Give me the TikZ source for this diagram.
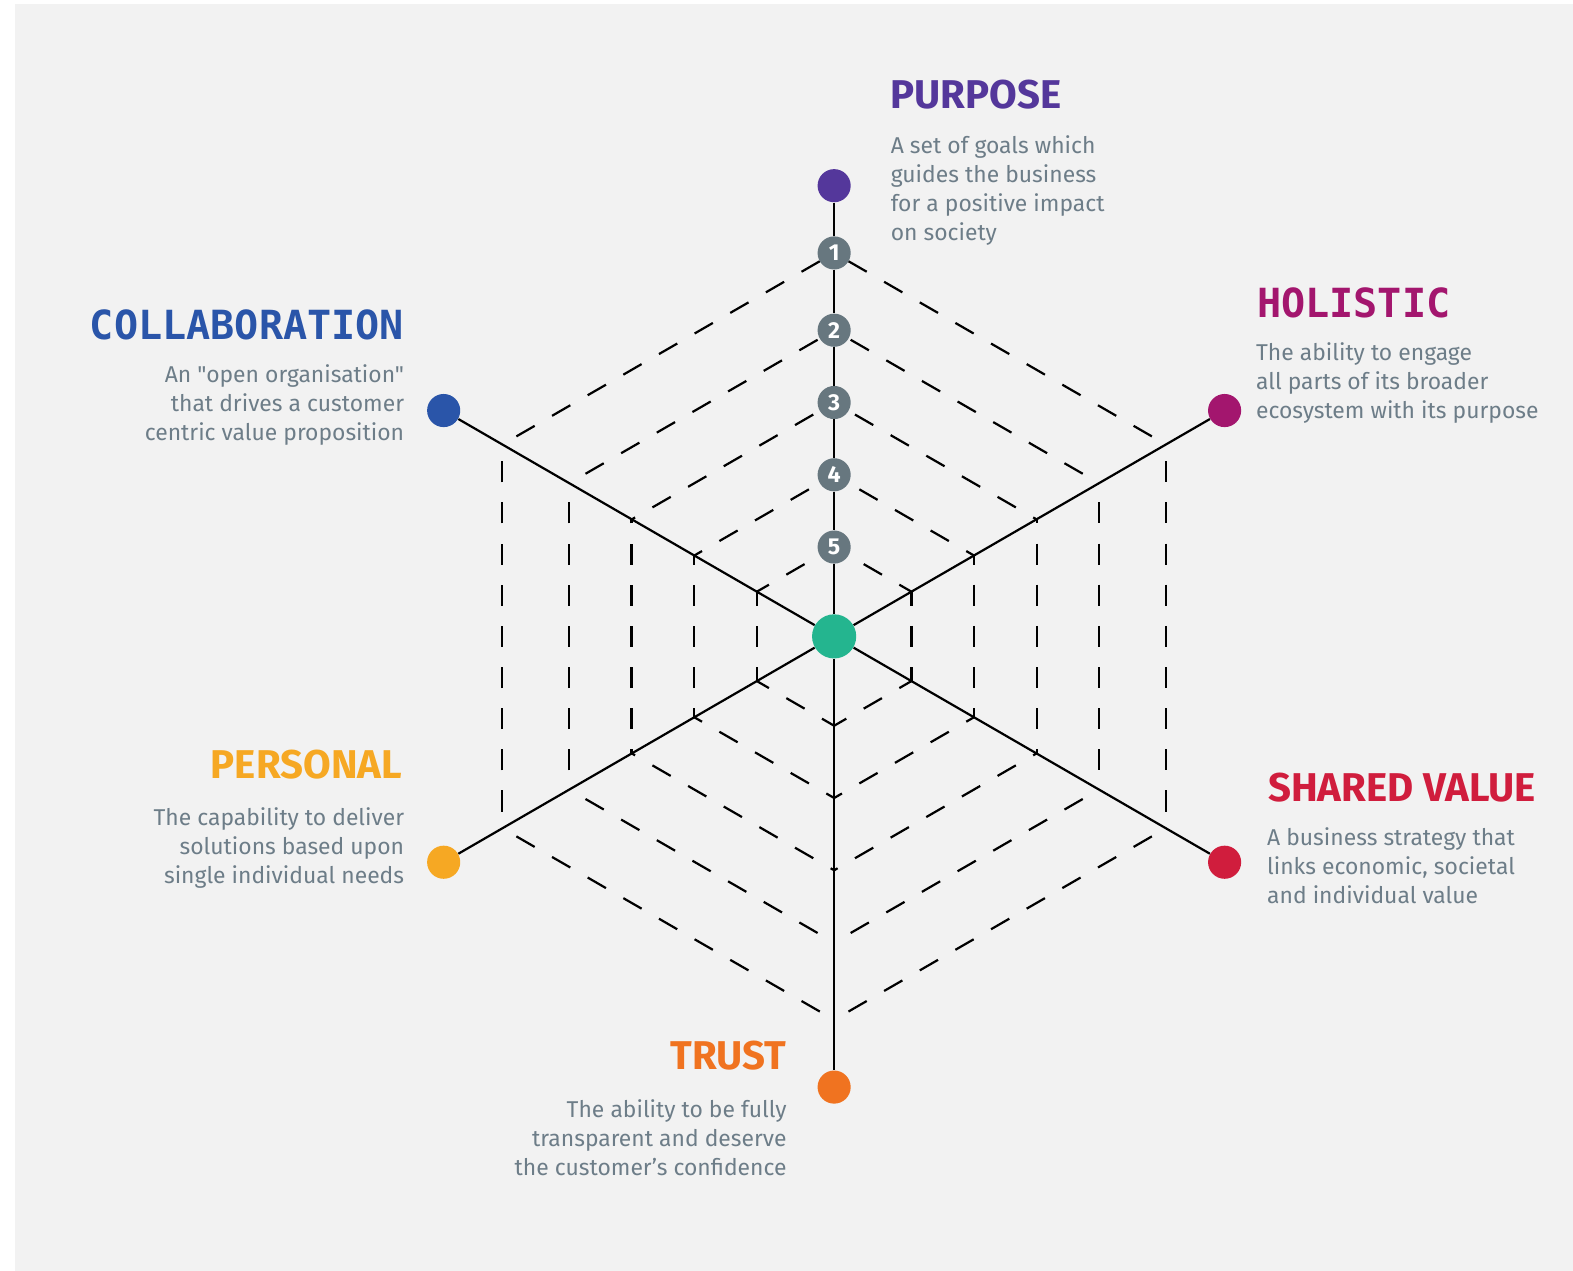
\documentclass[tikz,border=0pt]{standalone}
\usepackage{fontspec}
\setmainfont{Fira Sans}[Ligatures=TeXOff]
\newfontfamily\monofont{DejaVu Sans Mono}
\definecolor{bgray}{HTML}{F2F2F2}
\definecolor{hubgreen}{HTML}{24B58F}
\definecolor{numgray}{HTML}{67777F}
\definecolor{txtgray}{HTML}{6D7D88}
\definecolor{cpurpose}{HTML}{54379B}
\definecolor{cholistic}{HTML}{A3166E}
\definecolor{cshared}{HTML}{D01D3D}
\definecolor{ctrust}{HTML}{F07320}
\definecolor{cpersonal}{HTML}{F6A823}
\definecolor{ccollab}{HTML}{2A55A9}
\begin{document}
\begin{tikzpicture}[x=0.5pt,y=-0.5pt,
  dot/.style={circle,inner sep=0pt,minimum size=16.5pt},
  num/.style={circle,inner sep=0pt,minimum size=16.5pt,fill=numgray,text=white,font=\fontsize{11.5}{11.5}\selectfont\bfseries},
  axis/.style={black,line width=1.1pt},
  hexdash/.style={black,line width=1.1pt,dash pattern=on 10.5pt off 10pt},
  title/.style={inner sep=0pt,font=\fontsize{20}{20}\selectfont\bfseries},
  mtitle/.style={inner sep=0pt,font=\monofont\fontsize{20}{20}\selectfont\bfseries},
  desc/.style={inner sep=0pt,text=txtgray,font=\fontsize{11.4}{14.5}\selectfont}]
\useasboundingbox (0,0) rectangle (1567.1,1266.2);
\fill[white] (0,0) rectangle (1573,1271);
\fill[bgray] (15,4) rectangle (1573,1267);
\coordinate (c) at (831,634);
% dashed levels, dashes centred on each side
\foreach \r in {382,305,233,161,89}{
  \pgfmathsetmacro\ph{mod(5.25-\r/4+205,20.5)}
  \foreach \a in {30,90,...,330}
    \draw[hexdash,dash phase=\ph pt] ([shift={(\a:\r)}]c) -- ([shift={(\a+60:\r)}]c);
}
\node[circle,fill=hubgreen,inner sep=0pt,minimum size=22pt] (hub) at (c) {};
\foreach \n/\x/\y/\col in {pu/831/185/cpurpose,ho/1220/409/cholistic,sv/1220/859/cshared,
    tr/831/1083/ctrust,pe/442/859/cpersonal,co/442/409/ccollab}
  \node[dot,fill=\col] (\n) at (\x,\y) {};
\foreach \i/\y in {1/252,2/329,3/401,4/473,5/545}
  \node[num] (n\i) at (831,\y) {\i};
\draw[axis] (pu) -- (n1) -- (n2) -- (n3) -- (n4) -- (n5) -- (hub);
\foreach \n in {ho,sv,tr,pe,co}
  \draw[axis] (hub) -- (\n);
% labels (base = last line)
\node[title,text=cpurpose,anchor=base west] (tpu) at (887,108) {PURPOSE};
\node[desc,align=left,anchor=base west] (dpu) at (887,240) {A set of goals which\\guides the business\\for a positive impact\\on society};
\node[mtitle,text=cholistic,anchor=base west] (tho) at (1252,316) {HOLISTIC};
\node[desc,align=left,anchor=base west] (dho) at (1251,417) {The ability to engage\\all parts of its broader\\ecosystem with its purpose};
\node[mtitle,text=ccollab,anchor=base east] (tco) at (403,338) {COLLABORATION};
\node[desc,align=right,anchor=base east] (dco) at (403,439) {An "open organisation"\\that drives a customer\\centric value proposition};
\node[title,text=cpersonal,anchor=base east] (tpe) at (401,776) {PERSONAL};
\node[desc,align=right,anchor=base east] (dpe) at (403,880) {The capability to deliver\\solutions based upon\\single individual needs};
\node[title,text=cshared,anchor=base west] (tsv) at (1263,798) {SHARED VALUE};
\node[desc,align=left,anchor=base west] (dsv) at (1262,900) {A business strategy that\\links economic, societal\\and individual value};
\node[title,text=ctrust,anchor=base east] (ttr) at (784,1065) {TRUST};
\node[desc,align=right,anchor=base east] (dtr) at (784,1171) {The ability to be fully\\transparent and deserve\\the customer’s confidence};
\end{tikzpicture}
\end{document}
